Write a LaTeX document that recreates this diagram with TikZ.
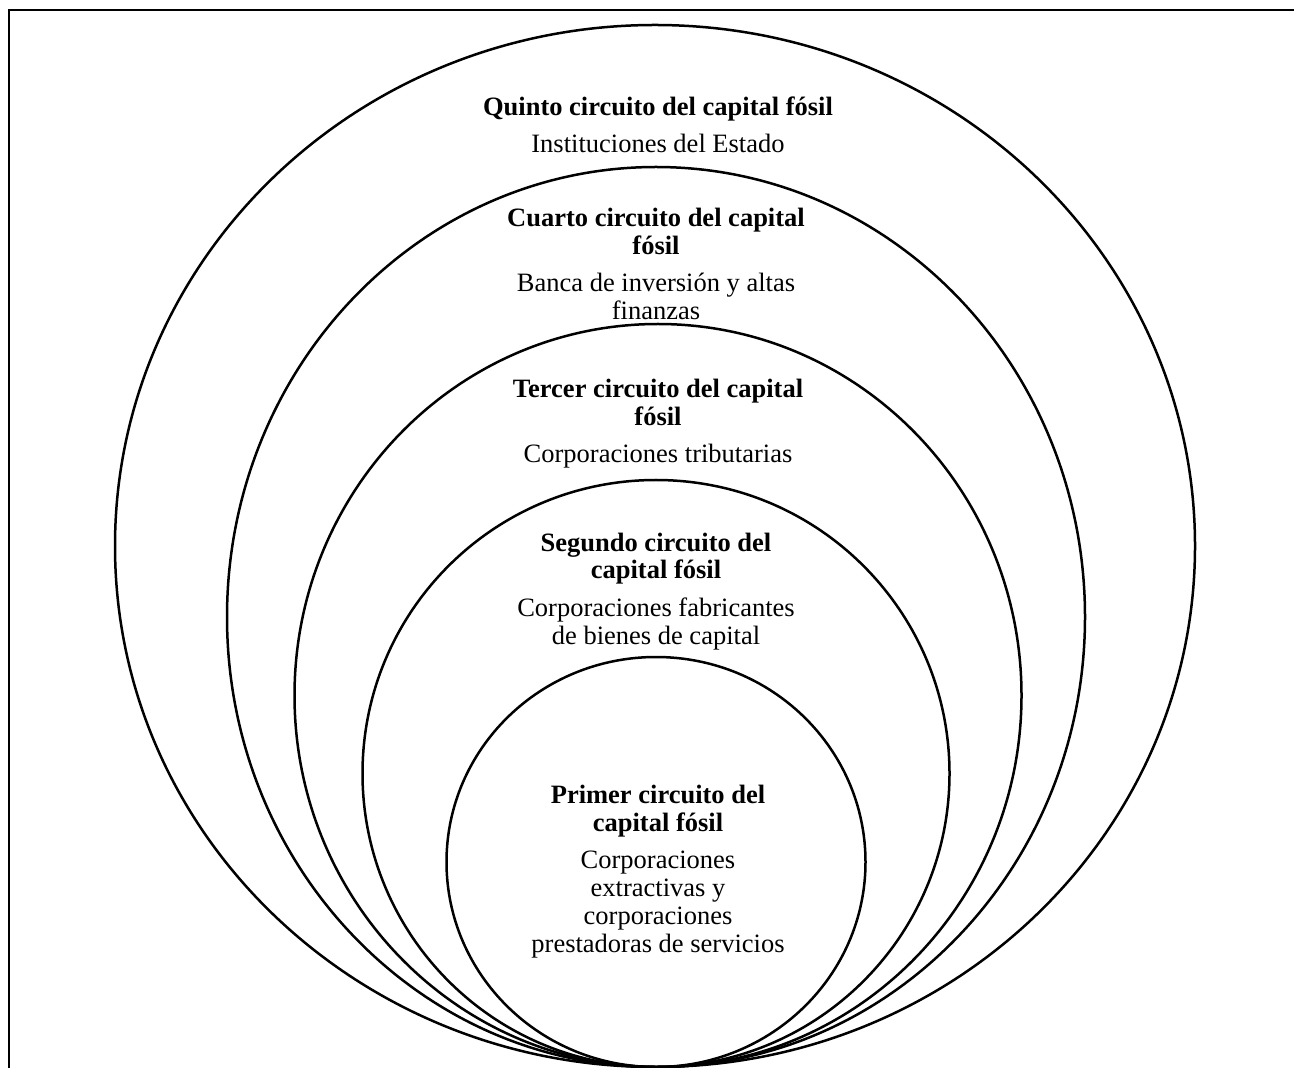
\documentclass[tikz,border=0pt]{standalone}
\usepackage{fontspec}
\setmainfont{Liberation Serif}
\begin{document}
\begin{tikzpicture}[x=0.5pt,y=-0.5pt,
  ring/.style={draw=black,line width=1.25pt},
  frameline/.style={draw=black,line width=1.3pt},
  label/.style={align=center,inner sep=0pt,anchor=base,
    font=\fontsize{13.25}{14}\selectfont}]
\useasboundingbox (0,0) rectangle (1294,1068);

% open frame: top and left edges only
\draw[frameline] (9,1068) -- (9,10) -- (1294,10);

% nested circuits, all touching at the bottom point
\draw[ring] (655,546)   ellipse [x radius=540, y radius=521];
\draw[ring] (656,617)   ellipse [x radius=429, y radius=450];
\draw[ring] (658,695.5) ellipse [x radius=363.5, y radius=371.5];
\draw[ring] (656,773.5) ellipse [x radius=293.5, y radius=293.5];
\draw[ring] (656,862)   ellipse [x radius=209.5, y radius=205];

% labels are placed by the baseline of their last line
\node[label] (quinto) at (658,153)
  {\textbf{Quinto circuito del capital fósil}\\[4.5pt]Instituciones del Estado};
\node[label] (cuarto) at (656,320)
  {\textbf{Cuarto circuito del capital}\\\textbf{fósil}\\[4.5pt]Banca de inversión y altas\\finanzas};
\node[label] (tercer) at (658,463)
  {\textbf{Tercer circuito del capital}\\\textbf{fósil}\\[4.5pt]Corporaciones tributarias};
\node[label] (segundo) at (656,644)
  {\textbf{Segundo circuito del}\\\textbf{capital fósil}\\[4.5pt]Corporaciones fabricantes\\de bienes de capital};
\node[label] (primer) at (658,952)
  {\textbf{Primer circuito del}\\\textbf{capital fósil}\\[4.5pt]Corporaciones\\extractivas y\\corporaciones\\prestadoras de servicios};
\end{tikzpicture}
\end{document}
